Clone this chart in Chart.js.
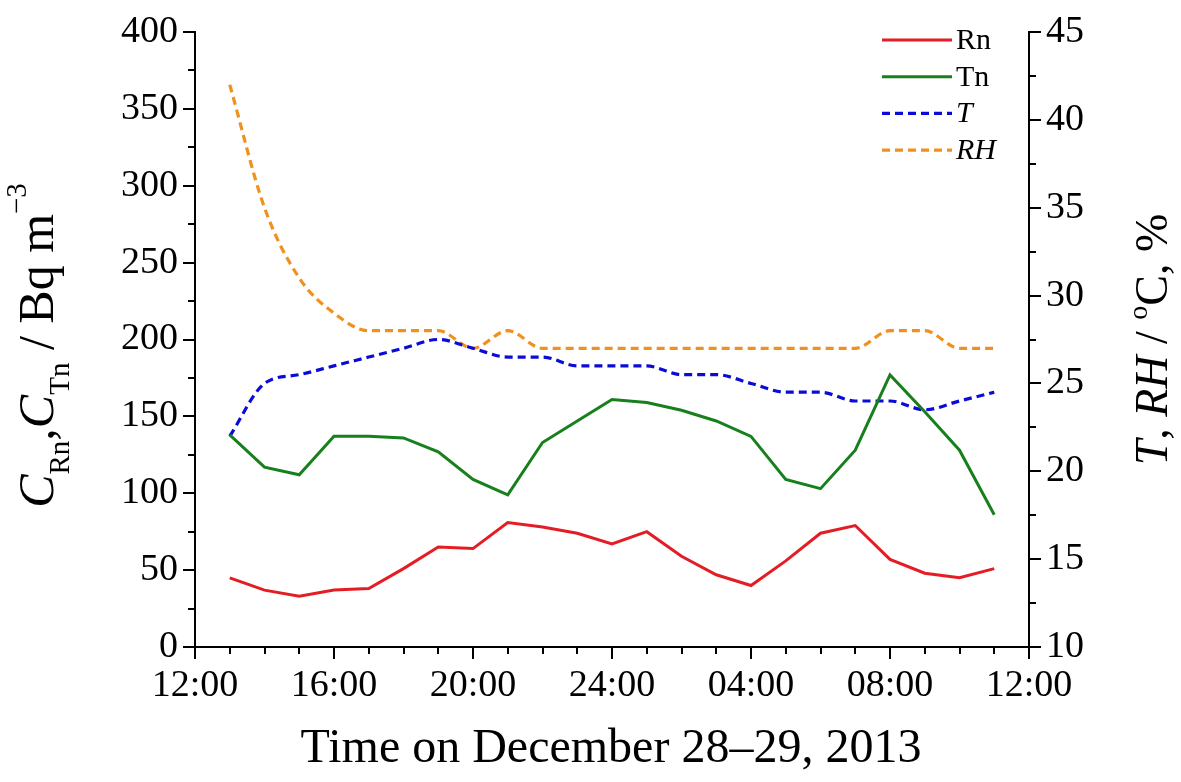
<!DOCTYPE html>
<html>
<head>
<meta charset="utf-8">
<script src="https://cdn.jsdelivr.net/npm/chart.js@4/dist/chart.umd.min.js"></script>
<style>
  html, body { margin: 0; padding: 0; background: #fff; overflow: hidden; }
  canvas { display: block; }
</style>
</head>
<body>
<canvas id="c" width="1181" height="782"></canvas>
<script>
// Hourly measurements, hours counted from 00:00 on December 28 (13 = 13:00, 35 = 11:00 next day)
const hours = [13, 14, 15, 16, 17, 18, 19, 20, 21, 22, 23, 24, 25, 26, 27, 28, 29, 30, 31, 32, 33, 34, 35];
// Radon and thoron concentrations, Bq m^-3
const radon = [45, 37, 33, 37, 38, 51, 65, 64, 81, 78, 74, 67, 75, 59, 47, 40, 56, 74, 79, 57, 48, 45, 51];
const thoron = [138, 117, 112, 137, 137, 136, 127, 109, 99, 133, 147, 161, 159, 154, 147, 137, 109, 103, 128, 177, 153, 128, 86];
// Air temperature (°C) and relative humidity (%)
const temperature = [22, 25, 25.5, 26, 26.5, 27, 27.5, 27, 26.5, 26.5, 26, 26, 26, 25.5, 25.5, 25, 24.5, 24.5, 24, 24, 23.5, 24, 24.5];
const humidity = [42, 35, 31, 29, 28, 28, 28, 27, 28, 27, 27, 27, 27, 27, 27, 27, 27, 27, 27, 28, 28, 27, 27];
// Time axis labels, one every four hours from 12:00
const xTickValues = [12, 16, 20, 24, 28, 32, 36];
const xTickLabels = ['12:00', '16:00', '20:00', '24:00', '04:00', '08:00', '12:00'];
const seriesLabels = ['Rn', 'Tn', 'T', 'RH'];
const italicLabels = ['T', 'RH'];

const SERIF = '"Liberation Serif", "Times New Roman", Times, serif';
const BLACK = '#000';

const pts = (ys) => hours.map((h, i) => ({ x: h, y: ys[i] }));

// Rich text (italics, sub/superscripts) drawn centered at (x, y), optionally rotated upward
function drawRich(ctx, parts, x, y, rotated) {
  ctx.save();
  ctx.translate(x, y);
  if (rotated) ctx.rotate(-Math.PI / 2);
  ctx.fillStyle = BLACK;
  ctx.textAlign = 'left';
  ctx.textBaseline = 'alphabetic';
  const fontOf = (p) => (p.italic ? 'italic ' : '') + p.size + 'px ' + SERIF;
  let total = 0;
  parts.forEach((p) => {
    ctx.font = fontOf(p);
    p.w = ctx.measureText(p.t).width + (p.gap || 0);
    total += p.w;
  });
  let cx = -total / 2;
  parts.forEach((p) => {
    ctx.font = fontOf(p);
    ctx.fillText(p.t, cx, p.dy || 0);
    cx += p.w;
  });
  ctx.restore();
}

const decorations = {
  id: 'decorations',
  afterDraw(chart) {
    const { ctx, chartArea: a, scales } = chart;
    const x = scales.x, yl = scales.y, yr = scales.y2;

    // minor ticks
    ctx.save();
    ctx.strokeStyle = BLACK;
    ctx.lineWidth = 2;
    ctx.beginPath();
    for (let h = 13; h < 36; h++) {
      if (h % 4 === 0) continue;
      const px = Math.round(x.getPixelForValue(h));
      ctx.moveTo(px, a.bottom); ctx.lineTo(px, a.bottom + 7);
    }
    for (let v = 25; v < 400; v += 50) {
      const py = Math.round(yl.getPixelForValue(v));
      ctx.moveTo(a.left, py); ctx.lineTo(a.left - 7, py);
    }
    for (let v = 12.5; v < 45; v += 5) {
      const py = Math.round(yr.getPixelForValue(v));
      ctx.moveTo(a.right, py); ctx.lineTo(a.right + 7, py);
    }
    ctx.stroke();
    ctx.restore();

    // axis titles
    const midY = (a.top + a.bottom) / 2;
    drawRich(ctx, [
      { t: 'Time on December 28\u201329, 2013', size: 48 }
    ], 611, 762, false);

    drawRich(ctx, [
      { t: 'C', size: 50, italic: true },
      { t: 'Rn', size: 29, dy: 16 },
      { t: ',', size: 50 },
      { t: 'C', size: 50, italic: true },
      { t: 'Tn', size: 29, dy: 16 },
      { t: ' / Bq m', size: 50 },
      { t: '\u22123', size: 29, dy: -27 }
    ], 53, midY + 6, true);

    drawRich(ctx, [
      { t: 'T', size: 46, italic: true },
      { t: ', ', size: 46 },
      { t: 'RH', size: 46, italic: true },
      { t: ' / ', size: 46 },
      { t: 'o', size: 28, dy: -20 },
      { t: 'C, %', size: 46 }
    ], 1167, midY, true);

    // legend
    ctx.save();
    const lx0 = a.right - 147, lx1 = a.right - 77;
    chart.data.datasets.forEach((ds, i) => {
      const ly = a.top + 8 + i * 36.7;
      ctx.strokeStyle = ds.borderColor;
      ctx.lineWidth = ds.borderWidth;
      ctx.setLineDash(ds.borderDash || []);
      ctx.beginPath();
      ctx.moveTo(lx0, ly); ctx.lineTo(lx1, ly);
      ctx.stroke();
      ctx.setLineDash([]);
      ctx.fillStyle = BLACK;
      ctx.font = (italicLabels.includes(ds.label) ? 'italic ' : '') + '30px ' + SERIF;
      ctx.textBaseline = 'middle';
      ctx.textAlign = 'left';
      ctx.fillText(ds.label, lx1 + 4, ly + 1);
    });
    ctx.restore();
  }
};

const tickFont = { family: SERIF, size: 38 };

new Chart(document.getElementById('c'), {
  type: 'line',
  data: {
    datasets: [
      { label: seriesLabels[0], data: pts(radon), yAxisID: 'y', borderColor: '#e41d24', borderWidth: 3, pointRadius: 0, tension: 0 },
      { label: seriesLabels[1], data: pts(thoron), yAxisID: 'y', borderColor: '#17801c', borderWidth: 3, pointRadius: 0, tension: 0 },
      { label: seriesLabels[2], data: pts(temperature), yAxisID: 'y2', borderColor: '#0b0bd8', borderWidth: 3.2, borderDash: [8, 5], pointRadius: 0, cubicInterpolationMode: 'monotone' },
      { label: seriesLabels[3], data: pts(humidity), yAxisID: 'y2', borderColor: '#f0901f', borderWidth: 3.2, borderDash: [8, 5], pointRadius: 0, cubicInterpolationMode: 'monotone' }
    ]
  },
  options: {
    responsive: false,
    animation: false,
    events: [],
    layout: { padding: { top: 32, left: 0, right: 0, bottom: 0 } },
    plugins: { legend: { display: false }, tooltip: { enabled: false }, title: { display: false } },
    scales: {
      x: {
        type: 'linear', min: 12, max: 36,
        afterBuildTicks: (s) => { s.ticks = xTickValues.map((v) => ({ value: v })); },
        afterFit: (s) => { s.height = 135; },
        ticks: {
          autoSkip: false, maxRotation: 0, color: BLACK, font: tickFont, padding: 4,
          callback: (v) => xTickLabels[xTickValues.indexOf(v)]
        },
        grid: { drawOnChartArea: false, color: BLACK, lineWidth: 2, tickLength: 12 },
        border: { color: BLACK, width: 2 }
      },
      y: {
        position: 'left', min: 0, max: 400,
        afterFit: (s) => { s.width = 195; },
        ticks: { stepSize: 50, color: BLACK, font: tickFont, padding: 5 },
        grid: { drawOnChartArea: false, color: BLACK, lineWidth: 2, tickLength: 12 },
        border: { color: BLACK, width: 2 }
      },
      y2: {
        position: 'right', min: 10, max: 45,
        afterFit: (s) => { s.width = 152; },
        ticks: { stepSize: 5, color: BLACK, font: tickFont, padding: 5 },
        grid: { drawOnChartArea: false, color: BLACK, lineWidth: 2, tickLength: 12 },
        border: { color: BLACK, width: 2 }
      }
    }
  },
  plugins: [decorations]
});
</script>
</body>
</html>
